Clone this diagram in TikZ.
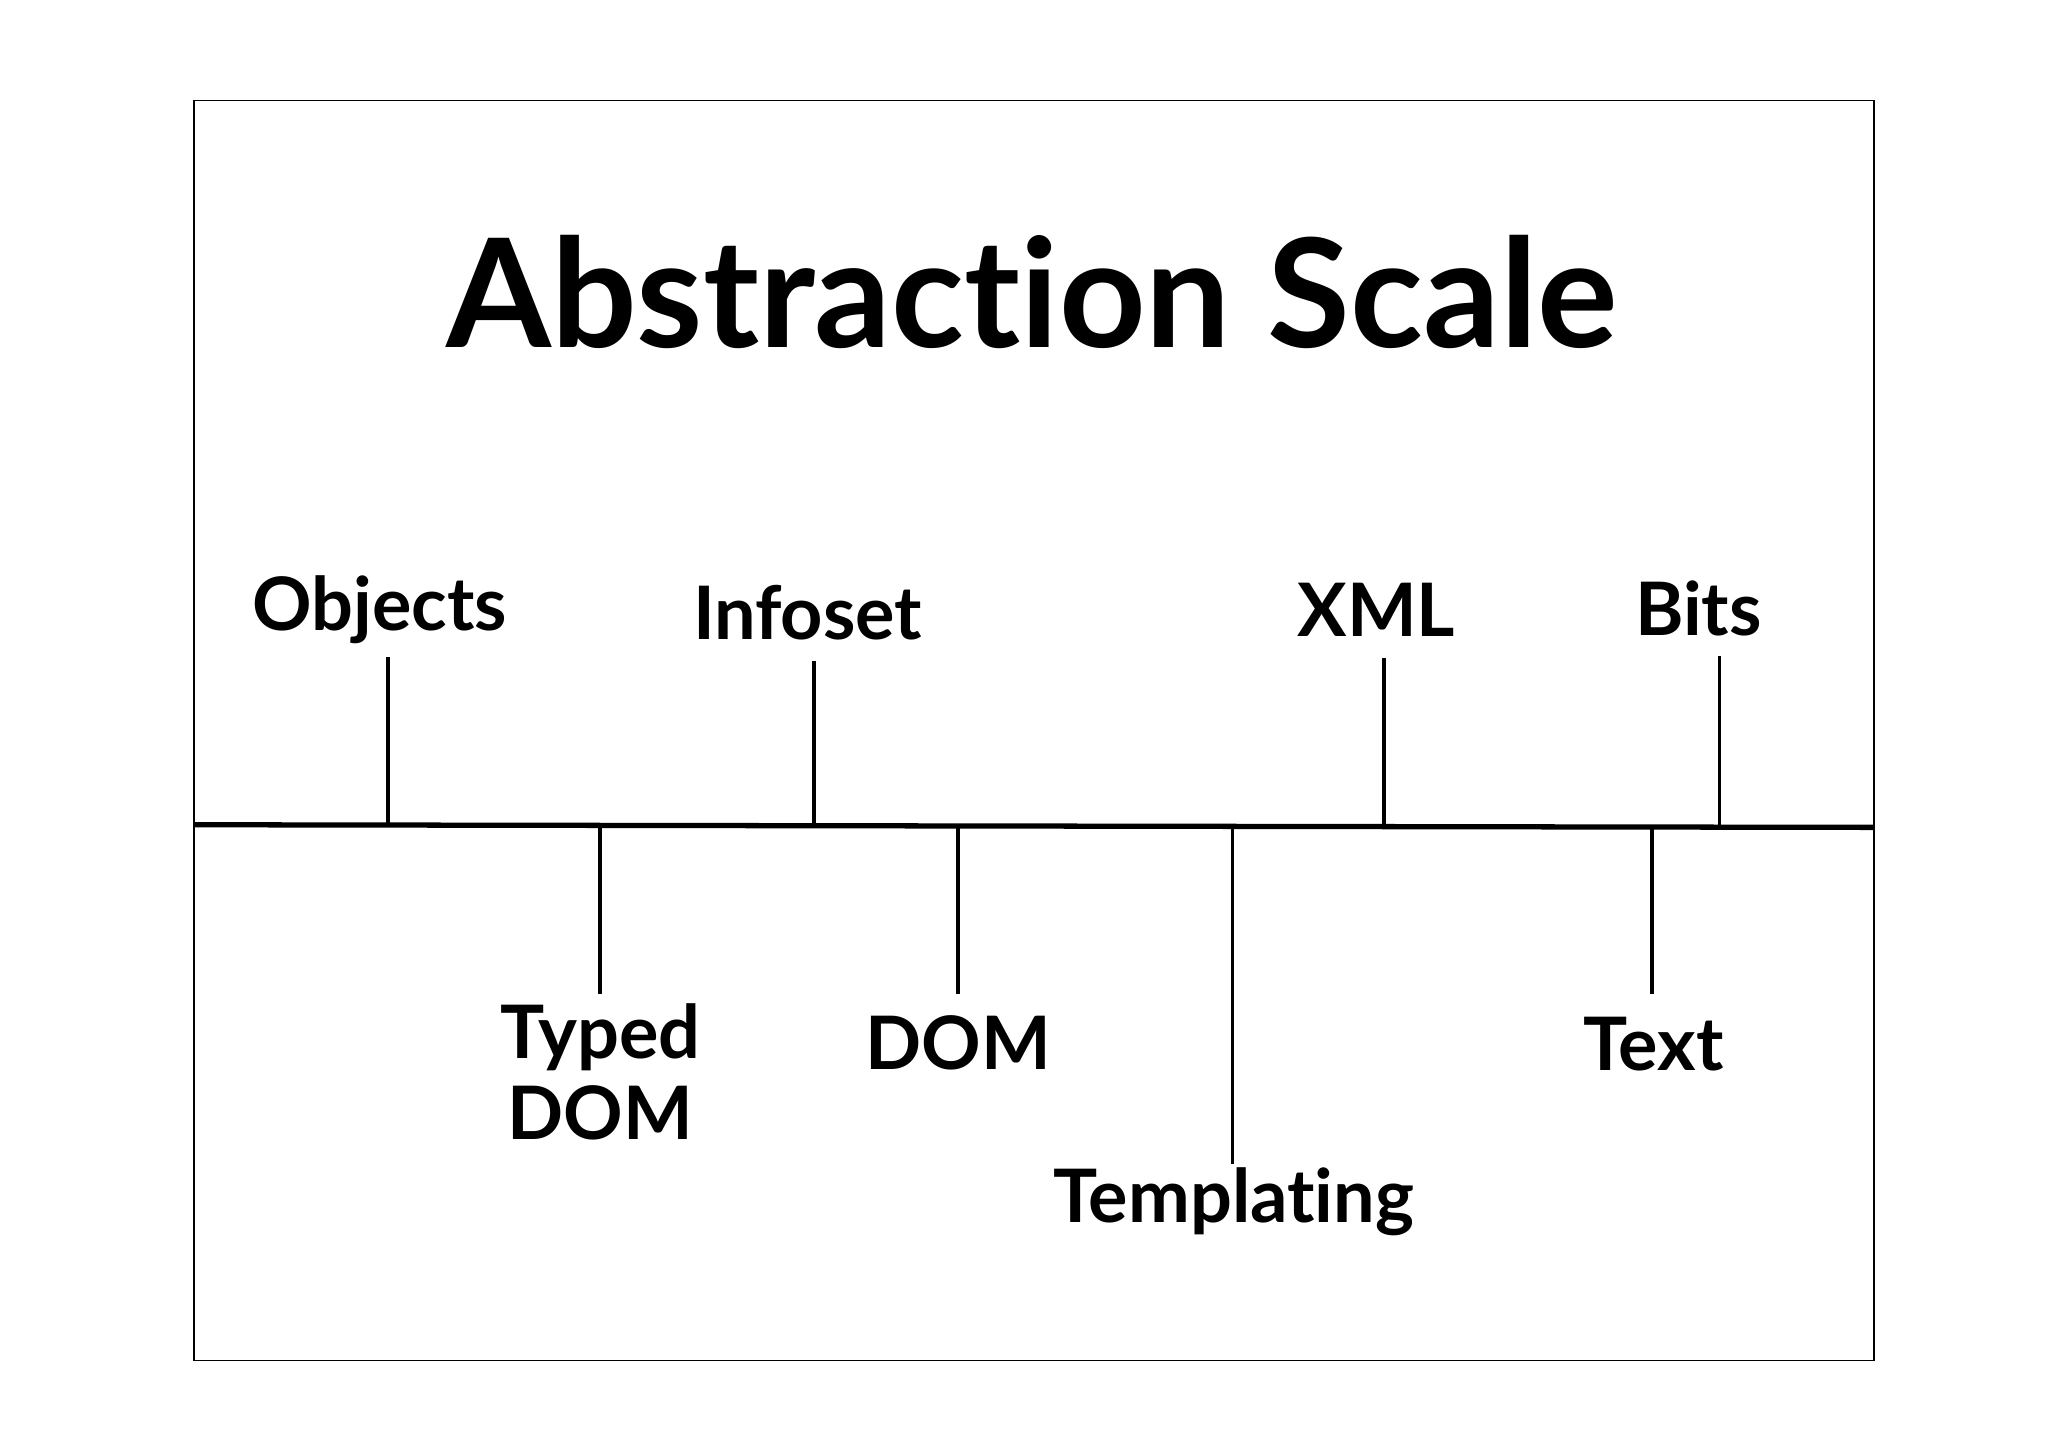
\documentclass[tikz,border=0pt]{standalone}
\usepackage{fontspec}
\setmainfont{Lato}[Ligatures=NoCommon]
\begin{document}
\begin{tikzpicture}[x=0.013196cm,y=-0.013196cm,
	lbl/.style={font=\fontsize{21}{23}\selectfont\bfseries,align=center,inner sep=0pt},
	tick/.style={line width=1.1pt}]
	\useasboundingbox (0,0) rectangle (1552,1097);
	\draw[line width=0.4pt] (147,76) rectangle (1420,1031);
	\node[font=\fontsize{43}{46}\selectfont\bfseries] (title) at (782,221) {Abstraction Scale};
	% the scale
	\coordinate (left) at (147,625);
	\coordinate (right) at (1420,627);
	\draw[line width=1.5pt] (left) -- (right);
	% labels above
	\node[lbl] (obj) at (288,462) {Objects};
	\node[lbl] (info) at (612,464) {Infoset};
	\node[lbl] (xml) at (1043,462) {XML};
	\node[lbl] (bits) at (1287,461) {Bits};
	% labels below
	\node[lbl] (tdom) at (455,812) {Typed\\DOM};
	\node[lbl] (dom) at (726,790) {DOM};
	\node[lbl] (tmpl) at (935,911) {Templating};
	\node[lbl] (txt) at (1253,791) {Text};
	% ticks
	\foreach \n/\x/\a/\b in {obj/294/498/625, info/617/501/625, xml/1049/499/626, bits/1303/497/627,
		tdom/455/626/753, dom/726/626/753, tmpl/934/626/882, txt/1252/627/753}
	{
		\coordinate (\n-a) at (\x,\a);
		\coordinate (\n-b) at (\x,\b);
		\draw[tick] (\n-a) -- (\n-b);
	}
\end{tikzpicture}
\end{document}
